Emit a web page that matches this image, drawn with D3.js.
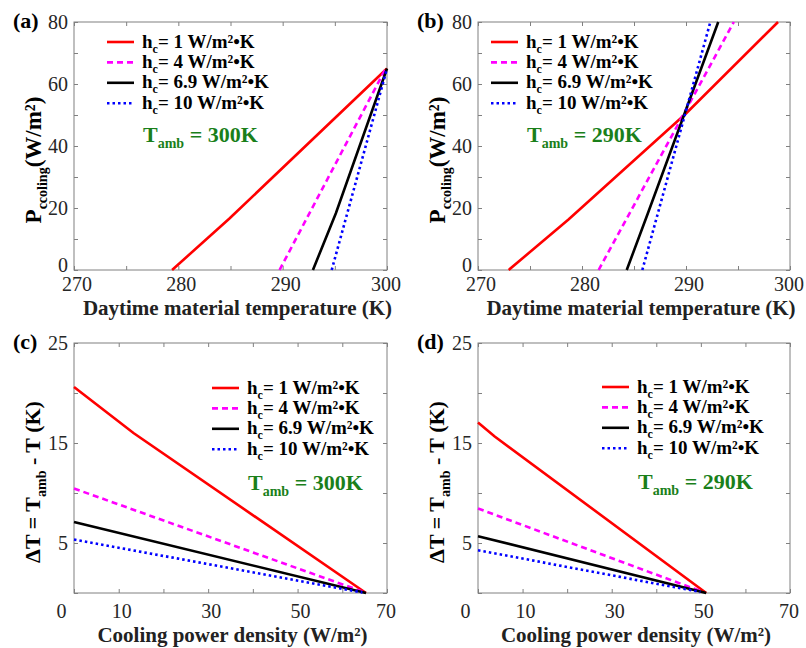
<!DOCTYPE html>
<html>
<head>
<meta charset="utf-8">
<script src="https://cdn.jsdelivr.net/npm/d3@7"></script>
<style>
  body { margin: 0; background: #fff; }
  .axis path { display: none; }
  .axis line { stroke: #808080; }
</style>
</head>
<body>
<script>
// legend values of the convective coefficient h_c (W/m2K)
var hcValues = ["1", "4", "6.9", "10"];
var ambientTemps = [300, 290];

// (a) cooling power vs material temperature, Tamb = 300 K  -> [T (K), P (W/m2)]
var a_hc1  = [[279.4, 0], [284.9, 16.6], [300, 65]];
var a_hc4  = [[289.7, 0], [299.8, 64.5], [300, 65]];
var a_hc69 = [[292.9, 0], [295.1, 18.3], [300, 65]];
var a_hc10 = [[294.7, 0], [300, 65]];

// (b) same, Tamb = 290 K
var b_hc1  = [[272.95, 0], [278.7, 16.3], [290.0, 50.5], [298.85, 80]];
var b_hc4  = [[281.6, 0], [294.6, 80]];
var b_hc69 = [[284.3, 0], [286.3, 18.0], [293.1, 80]];
var b_hc10 = [[285.8, 0], [292.3, 79.5]];

// (c) temperature drop vs cooling power, Tamb = 300 K -> [P (W/m2), dT (K)]
var c_hc1  = [[0, 20.6], [13.3, 16.0], [65.3, 0]];
var c_hc4  = [[0, 10.45], [64.5, 0.15]];
var c_hc69 = [[0, 7.1], [65.3, 0]];
var c_hc10 = [[0, 5.35], [64.5, 0.05]];

// (d) same, Tamb = 290 K
var d_hc1  = [[0, 17.05], [3.75, 15.65], [51.2, 0]];
var d_hc4  = [[0, 8.45], [49.9, 0.2]];
var d_hc69 = [[0, 5.68], [51.2, 0]];
var d_hc10 = [[0, 4.28], [49.9, 0.1]];

// tick values / labels
var tempTicks = d3.range(270, 301, 5);
var powerTicks = d3.range(0, 81, 10);
var densityTicks = d3.range(0, 71, 10);
var densityLabels = [0, 10, 30, 50, 70];
var deltaTicks = d3.range(0, 26, 5);
var deltaLabels = [5, 15, 25];

// line styles per h_c
var colors = ["#ff0000", "#ff00ff", "#000000", "#0000ff"];
var dashes = [null, "6,4", null, "2.5,3"];

var svg = d3.select("body").append("svg")
  .attr("width", 806)
  .attr("height", 648);

var panels = [
  { tag: "(a)", left: 74, top: 22, w: 313, h: 248, kind: "temp", tamb: ambientTemps[0],
    series: [a_hc1, a_hc4, a_hc69, a_hc10], legX: 33, legY: 20 },
  { tag: "(b)", left: 478, top: 22, w: 312, h: 248, kind: "temp", tamb: ambientTemps[1],
    series: [b_hc1, b_hc4, b_hc69, b_hc10], legX: 13, legY: 20 },
  { tag: "(c)", left: 74, top: 343, w: 313, h: 250, kind: "delta", tamb: ambientTemps[0],
    series: [c_hc1, c_hc4, c_hc69, c_hc10], legX: 138, legY: 45 },
  { tag: "(d)", left: 478, top: 343, w: 312, h: 250, kind: "delta", tamb: ambientTemps[1],
    series: [d_hc1, d_hc4, d_hc69, d_hc10], legX: 124, legY: 44 }
];

panels.forEach(function (p) {
  var g = svg.append("g").attr("transform", "translate(" + p.left + "," + p.top + ")");
  var isTemp = p.kind === "temp";

  var x = d3.scaleLinear().domain(isTemp ? [270, 300] : [0, 70]).range([0, p.w]);
  var y = d3.scaleLinear().domain(isTemp ? [0, 80] : [0, 25]).range([p.h, 0]);
  var xt = isTemp ? tempTicks : densityTicks;
  var yt = isTemp ? powerTicks : deltaTicks;

  var xFmt = isTemp
    ? function (d) { return d % 10 === 0 ? d : ""; }
    : function (d) { return densityLabels.indexOf(d) >= 0 ? d : ""; };
  var yFmt = isTemp
    ? function (d) { return d % 20 === 0 ? d : ""; }
    : function (d) { return deltaLabels.indexOf(d) >= 0 ? d : ""; };

  // box
  g.append("rect")
    .attr("width", p.w).attr("height", p.h)
    .attr("fill", "none").attr("stroke", "#808080").attr("stroke-width", 1);

  var xb = g.append("g").attr("class", "axis")
    .attr("transform", "translate(0," + p.h + ")")
    .call(d3.axisBottom(x).tickValues(xt).tickFormat(xFmt).tickSizeInner(-4).tickSizeOuter(0)
      .tickPadding(isTemp ? 7 : 11));
  g.append("g").attr("class", "axis")
    .call(d3.axisTop(x).tickValues(xt).tickFormat("").tickSizeInner(-4).tickSizeOuter(0));
  var yl = g.append("g").attr("class", "axis")
    .call(d3.axisLeft(y).tickValues(yt).tickFormat(yFmt).tickSizeInner(-4).tickSizeOuter(0).tickPadding(6));
  g.append("g").attr("class", "axis")
    .attr("transform", "translate(" + p.w + ",0)")
    .call(d3.axisRight(y).tickValues(yt).tickFormat("").tickSizeInner(-4).tickSizeOuter(0));

  g.selectAll(".axis text").attr("fill", "#262626").style("font-size", "20px");
  xb.selectAll(".tick text").attr("dx", 2.5);
  // keep the right-most label inside the page
  xb.selectAll(".tick text").filter(function (d) { return d === x.domain()[1]; }).attr("dx", -1.5);

  if (!isTemp) {
    // the "0" label sits left of the axis corner in the original
    xb.selectAll(".tick text").filter(function (d) { return d === 0; }).attr("dx", -13);
  } else {
    yl.selectAll(".tick text").filter(function (d) { return d === 0; }).attr("dy", "0.05em");
  }

  // curves
  var line = d3.line()
    .x(function (d) { return x(d[0]); })
    .y(function (d) { return y(d[1]); });

  p.series.forEach(function (s, i) {
    g.append("path")
      .datum(s)
      .attr("d", line)
      .attr("fill", "none")
      .attr("stroke", colors[i])
      .attr("stroke-width", 2.6)
      .attr("stroke-dasharray", dashes[i]);
  });

  // legend
  var lg = g.append("g").attr("transform", "translate(" + p.legX + "," + p.legY + ")");
  hcValues.forEach(function (v, i) {
    var ry = i * 20.4;
    lg.append("line")
      .attr("x1", 0).attr("x2", 27).attr("y1", ry).attr("y2", ry)
      .attr("stroke", colors[i]).attr("stroke-width", 2.6)
      .attr("stroke-dasharray", dashes[i]);
    var t = lg.append("text")
      .attr("x", 35).attr("y", ry + 5.5)
      .attr("font-size", 19).attr("font-weight", "bold").attr("fill", "#000");
    t.append("tspan").text("h");
    t.append("tspan").attr("font-size", 12).attr("dy", 5).text("c");
    t.append("tspan").attr("dy", -5).text("= " + v + " W/m²•K");
  });
  var tt = lg.append("text")
    .attr("x", 36).attr("y", isTemp ? 100 : 102)
    .attr("font-size", 22).attr("font-weight", "bold").attr("fill", "#1a7f1a");
  tt.append("tspan").text("T");
  tt.append("tspan").attr("font-size", 14).attr("dy", 6).text("amb");
  tt.append("tspan").attr("dy", -6).text(" = " + p.tamb + "K");

  // panel tag
  svg.append("text")
    .attr("x", p.left - 61).attr("y", p.top + 6)
    .attr("font-size", 22).attr("font-weight", "bold").attr("fill", "#000")
    .text(p.tag);

  // x title
  var xTitle = g.append("text")
    .attr("x", p.w / 2 + (isTemp ? 7 : 2))
    .attr("y", p.h + (isTemp ? 45 : 49))
    .attr("text-anchor", "middle")
    .attr("font-size", 21).attr("font-weight", "bold").attr("fill", "#222");
  xTitle.text(isTemp ? "Daytime material temperature (K)" : "Cooling power density (W/m²)");

  // y title
  var yTitle = g.append("text")
    .attr("transform", "translate(" + (isTemp ? -33 : -34) + "," + (p.h / 2 + 14) + ") rotate(-90)")
    .attr("text-anchor", "middle")
    .attr("font-weight", "bold").attr("fill", "#000");
  if (isTemp) {
    yTitle.attr("font-size", 23);
    yTitle.append("tspan").text("P");
    yTitle.append("tspan").attr("font-size", 14).attr("dy", 6).text("ccoling");
    yTitle.append("tspan").attr("dy", -6).text("(W/m²)");
  } else {
    yTitle.attr("font-size", 22);
    yTitle.append("tspan").text("ΔT = T");
    yTitle.append("tspan").attr("font-size", 14).attr("dy", 6).text("amb");
    yTitle.append("tspan").attr("dy", -6).text(" - T (K)");
  }
});

// serif face for every text, set inline so nothing overrides it
svg.selectAll("text").style("font-family", "'Liberation Serif'");
</script>
</body>
</html>
